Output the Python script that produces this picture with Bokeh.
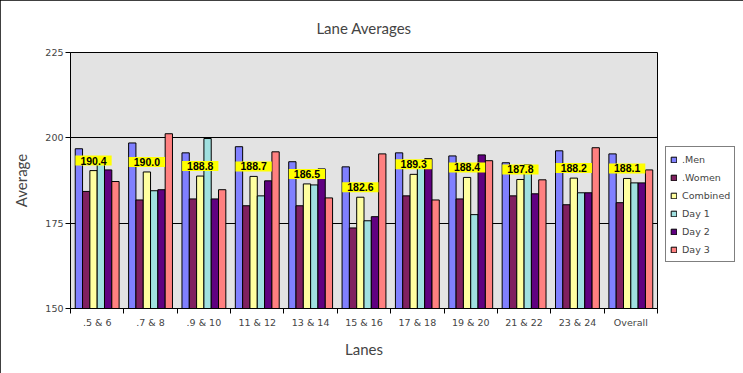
from bokeh.plotting import figure
from bokeh.models import FixedTicker, Label, Legend, LegendItem, ColumnDataSource, Range1d, Title
from bokeh.transform import dodge
from bokeh.embed import file_html
from bokeh.resources import INLINE

categories = [".5 & 6", ".7 & 8", ".9 & 10", "11 & 12", "13 & 14", "15 & 16",
              "17 & 18", "19 & 20", "21 & 22", "23 & 24", "Overall"]
men = [196.8, 198.5, 195.6, 197.4, 193.0, 191.5, 195.6, 194.7, 192.7, 196.2, 195.3]
women = [184.3, 181.8, 182.1, 180.1, 180.1, 173.6, 183.0, 182.1, 183.0, 180.4, 181.0]
combined = [190.4, 190.0, 188.8, 188.7, 186.5, 182.6, 189.3, 188.4, 187.8, 188.2, 188.1]
day1 = [193.4, 184.5, 199.8, 183.0, 186.2, 175.7, 192.2, 177.5, 192.1, 183.9, 186.8]
day2 = [190.6, 184.8, 182.1, 187.4, 190.9, 176.9, 193.9, 195.0, 183.6, 183.9, 186.8]
day3 = [187.2, 201.2, 184.8, 195.9, 182.4, 195.3, 181.8, 193.3, 187.7, 197.1, 190.6]
series_names = [".Men", ".Women", "Combined", "Day 1", "Day 2", "Day 3"]
series_values = [men, women, combined, day1, day2, day3]
colors = ["#8080FF", "#802060", "#FFFFA0", "#A0E0E0", "#600080", "#FF8080"]
y_ticks = [150, 175, 200, 225]

n = len(categories)
centers = [i + 0.5 for i in range(n)]
bw = 0.137

data = {"x": centers}
for name, vals in zip(series_names, series_values):
    data[name] = vals
source = ColumnDataSource(data)

FW, FH = 587, 256
p = figure(frame_width=FW, frame_height=FH,
           output_backend="svg", toolbar_location=None,
           x_range=Range1d(0, n), y_range=Range1d(y_ticks[0], y_ticks[-1]),
           min_border_left=70, min_border_right=0, min_border_top=52, min_border_bottom=65,
           title="Lane Averages")
p.styles = {"outline": "1px solid black", "outline-offset": "-1px"}
p.background_fill_color = "#E3E3E3"
p.border_fill_color = "white"
p.outline_line_color = "black"
p.outline_line_alpha = 1

p.title.align = "center"
p.title.text_font = "Lato"
p.title.text_font_size = "15px"
p.title.text_font_style = "normal"
p.add_layout(Title(text=" ", text_font_size="8px", standoff=0), "above")

renderers = []
for k, (name, col) in enumerate(zip(series_names, colors)):
    r = p.vbar(x=dodge("x", (k - 2.5) * bw, range=p.x_range), top=name, bottom=y_ticks[0],
               width=bw, source=source, fill_color=col, line_color="black", line_width=1)
    renderers.append(r)

for i, v in enumerate(combined):
    lab = Label(x=centers[i] - 0.5 * bw, y=v, y_offset=5, text=f"{v:.1f}",
                text_font="Liberation Sans", text_font_size="10.5px", text_font_style="bold",
                text_color="black", text_align="center", text_baseline="bottom",
                background_fill_color="#FFFF00", padding=dict(left=5, right=5, top=1, bottom=1))
    p.add_layout(lab)

# axes
p.yaxis.ticker = FixedTicker(ticks=y_ticks)
p.yaxis.axis_label = "Average"
p.yaxis.axis_label_text_font = "Lato"
p.yaxis.axis_label_text_font_size = "15px"
p.yaxis.axis_label_text_font_style = "normal"
p.yaxis.axis_label_standoff = 12
p.yaxis.major_label_text_font = "DejaVu Sans"
p.yaxis.major_label_text_font_size = "9.5px"
p.yaxis.major_tick_out = 5
p.yaxis.major_tick_in = 0
p.yaxis.major_label_standoff = 2
p.yaxis.minor_tick_line_color = None
p.yaxis.axis_line_color = "black"

p.xaxis.ticker = FixedTicker(ticks=centers, minor_ticks=list(range(n + 1)))
p.xaxis.major_label_overrides = {c: lab for c, lab in zip(centers, categories)}
p.xaxis.major_tick_line_color = None
p.xaxis.major_tick_out = 0
p.xaxis.major_tick_in = 0
p.xaxis.minor_tick_out = 5
p.xaxis.minor_tick_in = 0
p.xaxis.minor_tick_line_color = "black"
p.xaxis.major_label_standoff = 3
p.xaxis.major_label_text_font = "DejaVu Sans"
p.xaxis.major_label_text_font_size = "9.5px"
p.xaxis.axis_label = "Lanes"
p.xaxis.axis_label_text_font = "Lato"
p.xaxis.axis_label_text_font_size = "15px"
p.xaxis.axis_label_text_font_style = "normal"
p.xaxis.axis_label_standoff = 9
p.xaxis.axis_line_color = "black"

p.xgrid.visible = False
p.ygrid.grid_line_color = "black"
p.ygrid.grid_line_alpha = 1
p.ygrid.grid_line_width = 1

legend = Legend(items=[LegendItem(label=nm, renderers=[r]) for nm, r in zip(series_names, renderers)],
                location=(8, 46))
legend.border_line_color = "black"
legend.border_line_width = 1
legend.background_fill_color = "white"
legend.label_text_font = "DejaVu Sans"
legend.label_text_font_size = "9.5px"
legend.glyph_width = 7
legend.glyph_height = 7
legend.label_height = 16
legend.spacing = 2
legend.padding = 4
legend.label_standoff = 5
legend.margin = 0
p.add_layout(legend, "right")

open("out.html", "w").write(file_html(p, INLINE))
